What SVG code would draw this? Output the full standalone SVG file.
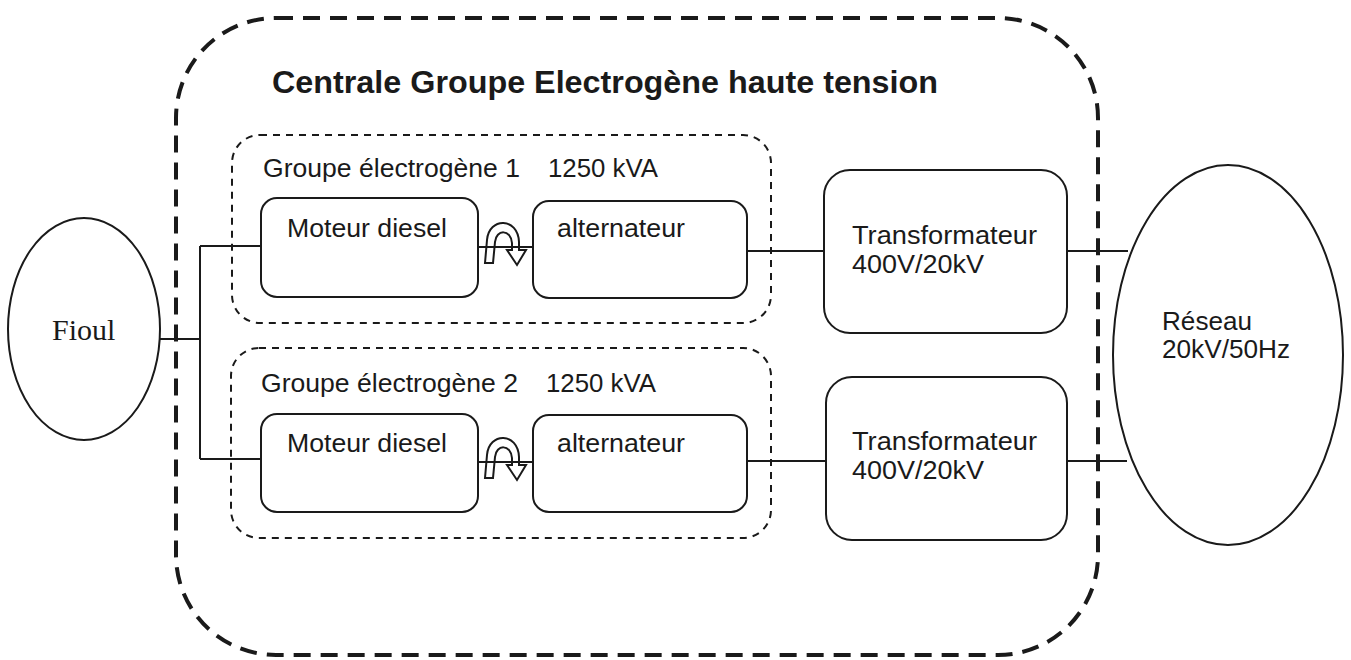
<svg xmlns="http://www.w3.org/2000/svg" width="1351" height="660" viewBox="0 0 1351 660">
<style>
.box{fill:none;stroke:#1a1a1a;stroke-width:2}
.outer{fill:none;stroke:#1a1a1a;stroke-width:4;stroke-dasharray:17 10}
.grp{fill:none;stroke:#1a1a1a;stroke-width:2;stroke-dasharray:7 6}
.ln{fill:none;stroke:#1a1a1a;stroke-width:2}
.t{font-family:"Liberation Sans",Arial,sans-serif;font-size:25px;fill:#1a1a1a}
.title{font-family:"Liberation Sans",Arial,sans-serif;font-size:32px;font-weight:bold;fill:#1a1a1a}
.serif{font-family:"Liberation Serif","Times New Roman",serif;font-size:30px;fill:#1a1a1a}
</style>
<rect width="1351" height="660" fill="#ffffff"/>
<g id="centrale">
<rect class="outer" x="176" y="18" width="922" height="637" rx="100" ry="100"/>
<text class="title" x="272" y="93" textLength="666" lengthAdjust="spacingAndGlyphs">Centrale Groupe Electrogène haute tension</text>
</g>
<g id="connectors">
<path class="ln" d="M160,339 H200 M200,246 V459 M200,246 H262 M200,459 H262"/>
<path class="ln" d="M478,247 H533 M478,462 H533"/>
<path class="ln" d="M748,251 H824 M1067,251 H1128"/>
<path class="ln" d="M748,461 H826 M1067,461 H1127"/>
<path class="ln" d="M485,263 L487,240 C489,217 518,217 519,242 L519,250 L526,250 L517,265 L507,250 L512,250 L512,243 C511,229 496,229 495,242 L493,263 Z"/>
<path class="ln" d="M485,478 L487,455 C489,432 518,432 519,457 L519,465 L526,465 L517,480 L507,465 L512,465 L512,458 C511,444 496,444 495,457 L493,478 Z"/>
</g>
<g id="fioul">
<ellipse class="box" cx="84" cy="329" rx="76" ry="111"/>
<text class="serif" x="52" y="340">Fioul</text>
</g>
<g id="groupe1">
<rect class="grp" x="232" y="135" width="539" height="188" rx="28" ry="28"/>
<text class="t" x="263" y="177" textLength="257" lengthAdjust="spacingAndGlyphs">Groupe électrogène 1</text>
<text class="t" x="548" y="177" textLength="110" lengthAdjust="spacingAndGlyphs">1250 kVA</text>
</g>
<g id="moteur1">
<rect class="box" x="261" y="198" width="217" height="99" rx="16" ry="16"/>
<text class="t" x="287" y="237" textLength="160" lengthAdjust="spacingAndGlyphs">Moteur diesel</text>
</g>
<g id="alternateur1">
<rect class="box" x="533" y="201" width="214" height="97" rx="16" ry="16"/>
<text class="t" x="557" y="237" textLength="128" lengthAdjust="spacingAndGlyphs">alternateur</text>
</g>
<g id="groupe2">
<rect class="grp" x="231" y="348" width="540" height="190" rx="28" ry="28"/>
<text class="t" x="261" y="392" textLength="257" lengthAdjust="spacingAndGlyphs">Groupe électrogène 2</text>
<text class="t" x="546" y="392" textLength="110" lengthAdjust="spacingAndGlyphs">1250 kVA</text>
</g>
<g id="moteur2">
<rect class="box" x="261" y="414" width="217" height="98" rx="16" ry="16"/>
<text class="t" x="287" y="452" textLength="160" lengthAdjust="spacingAndGlyphs">Moteur diesel</text>
</g>
<g id="alternateur2">
<rect class="box" x="533" y="415" width="214" height="97" rx="16" ry="16"/>
<text class="t" x="557" y="452" textLength="128" lengthAdjust="spacingAndGlyphs">alternateur</text>
</g>
<g id="transformateur1">
<rect class="box" x="824" y="170" width="243" height="163" rx="26" ry="26"/>
<text class="t" x="852" y="244" textLength="185" lengthAdjust="spacingAndGlyphs">Transformateur</text>
<text class="t" x="852" y="273" textLength="132" lengthAdjust="spacingAndGlyphs">400V/20kV</text>
</g>
<g id="transformateur2">
<rect class="box" x="826" y="377" width="241" height="163" rx="26" ry="26"/>
<text class="t" x="852" y="450" textLength="185" lengthAdjust="spacingAndGlyphs">Transformateur</text>
<text class="t" x="852" y="479" textLength="132" lengthAdjust="spacingAndGlyphs">400V/20kV</text>
</g>
<g id="reseau">
<ellipse class="box" cx="1228" cy="355" rx="115" ry="190"/>
<text class="t" x="1162" y="330" textLength="90" lengthAdjust="spacingAndGlyphs">Réseau</text>
<text class="t" x="1162" y="358" textLength="128" lengthAdjust="spacingAndGlyphs">20kV/50Hz</text>
</g>
</svg>
